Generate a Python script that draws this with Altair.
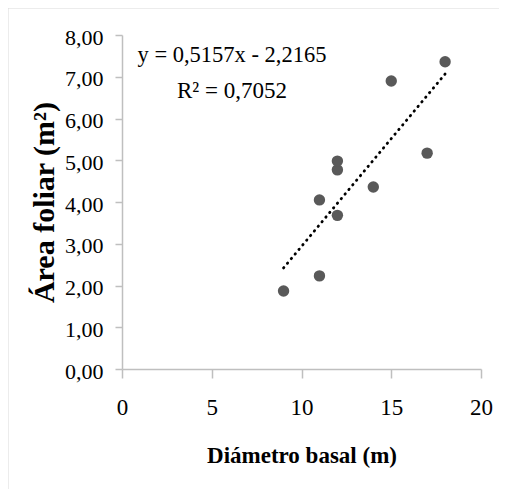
import altair as alt
import pandas as pd

diametro = [9, 11, 11, 12, 12, 12, 14, 15, 17, 18]
area = [1.87, 2.23, 4.05, 3.68, 4.77, 4.98, 4.36, 6.90, 5.17, 7.36]
x_ticks = [0, 5, 10, 15, 20]
y_ticks = [0, 1, 2, 3, 4, 5, 6, 7, 8]
eq_lines = ["y = 0,5157x - 2,2165", "R² = 0,7052"]

df = pd.DataFrame({"d": diametro, "a": area})
FONT = "'Times New Roman', 'Liberation Serif', serif"
W, H = 359, 334

xenc = alt.X("d:Q", scale=alt.Scale(domain=[0, 20], nice=False),
             axis=alt.Axis(values=x_ticks, title="Diámetro basal (m)", grid=False,
                           tickSize=9, labelPadding=18, labelFontSize=23,
                           labelFlush=False,
                           labelFont=FONT, titleFont=FONT,
                           titleFontSize=23, titlePadding=25))
yenc = alt.Y("a:Q", scale=alt.Scale(domain=[0, 8], nice=False),
             axis=alt.Axis(values=y_ticks, title="Área foliar (m²)", grid=False,
                           tickSize=7, labelPadding=12, labelFontSize=22,
                           labelFlush=False,
                           labelFont=FONT, titleFont=FONT,
                           labelOffset=2,
                           labelExpr="replace(format(datum.value, '.2f'), '.', ',')",
                           titleFontSize=30, titlePadding=5))

points = alt.Chart(df).mark_point(filled=True, size=130, color="#595959", opacity=1).encode(x=xenc, y=yenc)

trend = alt.Chart(df).transform_regression("d", "a", extent=[9, 18]).mark_line(
    color="black", strokeWidth=2.8, strokeDash=[0.5, 5.5], strokeCap="round"
).encode(x="d:Q", y="a:Q")

eq1 = alt.Chart(pd.DataFrame({"t": [eq_lines[0]]})).mark_text(
    font=FONT, fontSize=22.5, align="center", baseline="alphabetic", color="black"
).encode(text="t:N", x=alt.value(110), y=alt.value(27))
eq2 = alt.Chart(pd.DataFrame({"t": [eq_lines[1]]})).mark_text(
    font=FONT, fontSize=23, align="center", baseline="alphabetic", color="black"
).encode(text="t:N", x=alt.value(110), y=alt.value(63))

border_top = alt.Chart(pd.DataFrame({"k": [0]})).mark_rule(color="#d9d9d9", strokeWidth=1).encode(
    x=alt.value(-114), x2=alt.value(W + 18), y=alt.value(-27))
border_left = alt.Chart(pd.DataFrame({"k": [0]})).mark_rule(color="#d9d9d9", strokeWidth=1).encode(
    x=alt.value(-114), y=alt.value(-27), y2=alt.value(H + 120))

chart = alt.layer(border_top, border_left, trend, points, eq1, eq2).properties(
    width=W, height=H,
    autosize=alt.AutoSizeParams(type="none"),
    padding={"left": 114, "top": 27, "right": 18, "bottom": 120},
).configure_view(stroke=None).configure_axis(
    labelFont=FONT, titleFont=FONT, labelColor="black", titleColor="black",
    titleFontWeight="bold", domainColor="#bfbfbf", tickColor="#bfbfbf",
    domainWidth=1.5, tickWidth=1.5,
)

chart.save("out.html", embed_options={"renderer": "svg", "actions": False})
